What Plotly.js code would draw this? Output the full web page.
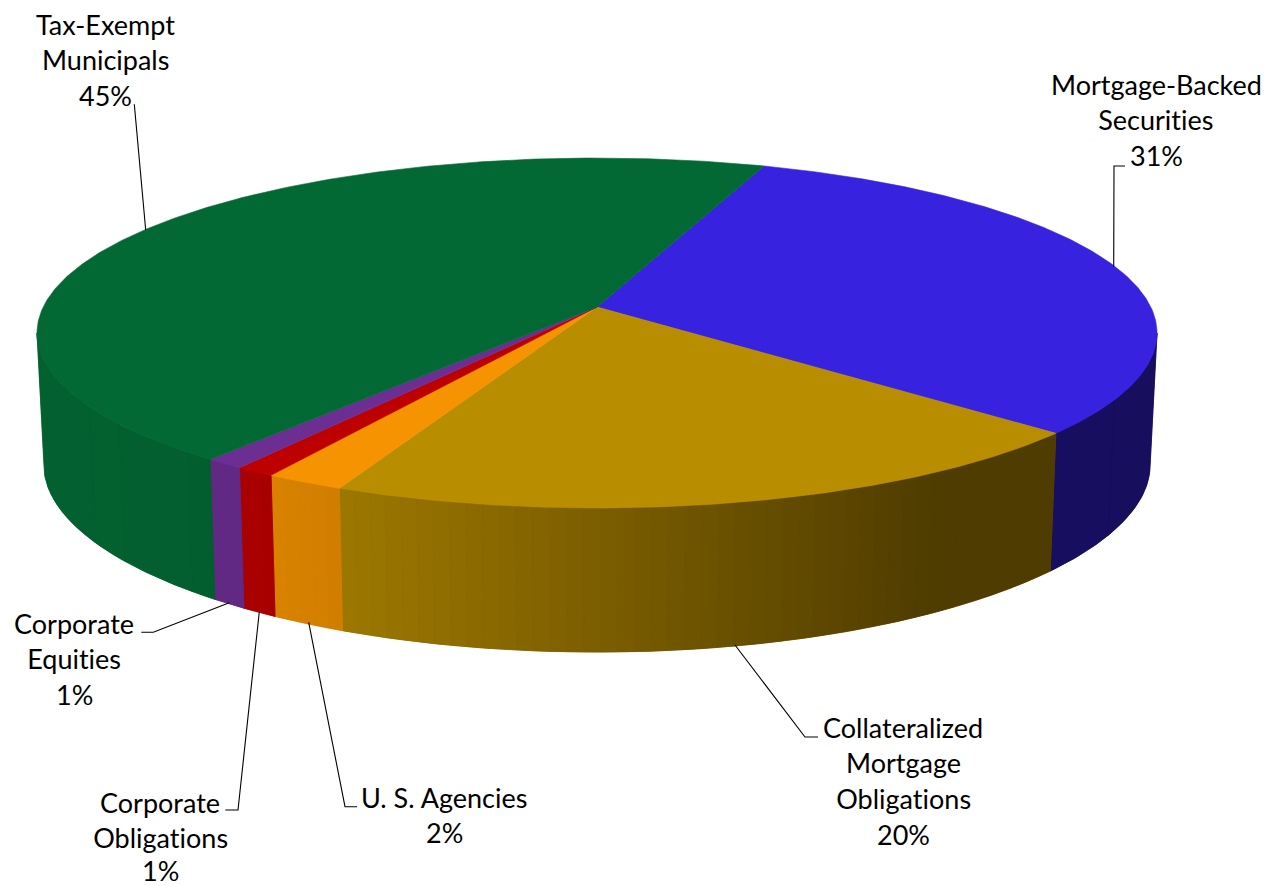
<!DOCTYPE html>
<html>
<head>
<meta charset="utf-8">
<title>Securities portfolio composition</title>
<script src="https://cdn.plot.ly/plotly-3.0.1.min.js"></script>
<style>
html,body{margin:0;padding:0;background:#fff}
#chart{width:1268px;height:886px}
#chart text{font-variant-ligatures:none;font-feature-settings:"liga" 0,"clig" 0}
</style>
</head>
<body>
<div id="chart"></div>
<script>
// Portfolio shares, in percent, clockwise from the first slice.
const categories = ['Mortgage-Backed Securities', 'Collateralized Mortgage Obligations', 'U. S. Agencies',
  'Corporate Obligations', 'Corporate Equities', 'Tax-Exempt Municipals'];
const shares = [31, 20, 2, 1, 1, 45];
const labelLines = [
  ['Mortgage-Backed', 'Securities'],
  ['Collateralized', 'Mortgage', 'Obligations'],
  ['U. S. Agencies'],
  ['Corporate', 'Obligations'],
  ['Corporate', 'Equities'],
  ['Tax-Exempt', 'Municipals']
];
const sliceColors = [[55, 34, 224], [185, 141, 0], [245, 147, 0], [189, 0, 0], [108, 46, 146], [3, 105, 52]];

// Layout of the tilted disc, in canvas pixels.
const firstSliceAngle = 20.1;
const perspective = 0.1486;
const centerX = 597;
const topFace = {a: 553.8, b: 171.1, cy: 307, ky: 0.1486};
const bottomFace = {a: 547, b: 178, cy: 437.6, ky: 0.17};
// Brightness of the rim, by horizontal position.
const rimShade = [[37, 0.92], [270, 0.89], [340, 0.85], [930, 0.43], [1160, 0.42]];

// Leader lines and label blocks: where each line runs, and the height of each text row.
const leaderPaths = [
  [[1113.7, 266.7], [1114, 166], [1125, 166]],
  [[735, 645], [805, 737], [818, 737]],
  [[308.7, 622.3], [345, 806.7], [357, 806.7]],
  [[259.3, 611.7], [238, 810], [225.3, 810]],
  [[229.3, 602.7], [153.3, 632.3], [141.3, 632.3]],
  [[145.7, 230], [134.3, 104.3]]
];
const labelCentreX = [1156, 903, 444, 160, 74, 105];
const labelRowY = [
  [84, 119.5, 155],
  [727, 762.5, 798, 834],
  [797, 832],
  [802, 837, 870],
  [623, 658, 694],
  [24, 59, 95]
];

function project(face, deg) {
  const t = deg * Math.PI / 180;
  const X = Math.sin(t), Y = Math.cos(t);
  return [centerX + face.a * X / (1 + perspective * Y), face.cy - face.b * Y / (1 + face.ky * Y)];
}
function rgb(c, f) {
  return 'rgb(' + c.map(v => Math.round(v * f)).join(',') + ')';
}
function shadeAt(x) {
  if (x <= rimShade[0][0]) return rimShade[0][1];
  for (let i = 1; i < rimShade.length; i++) {
    if (x <= rimShade[i][0]) {
      const [x0, f0] = rimShade[i - 1], [x1, f1] = rimShade[i];
      return f0 + (f1 - f0) * (x - x0) / (x1 - x0);
    }
  }
  return rimShade[rimShade.length - 1][1];
}
function polygon(points, color) {
  return {
    type: 'scatter', mode: 'lines', x: points.map(p => p[0]), y: points.map(p => p[1]),
    fill: 'toself', fillcolor: color, line: {color: color, width: 0.6},
    hoverinfo: 'skip', showlegend: false
  };
}
// A stretch of rim between two angles, as a closed outline.
function rimOutline(a0, a1) {
  const n = Math.max(2, Math.ceil((a1 - a0) * 2)), pts = [];
  for (let j = 0; j <= n; j++) pts.push(project(topFace, a0 + (a1 - a0) * j / n));
  for (let j = n; j >= 0; j--) pts.push(project(bottomFace, a0 + (a1 - a0) * j / n));
  pts.push(pts[0]);
  return pts;
}

const total = shares.reduce((s, v) => s + v, 0);
let angle = firstSliceAngle;
const spans = shares.map((v, i) => {
  const from = angle;
  angle += v / total * 360;
  return {from, to: angle, color: sliceColors[i]};
});

const traces = [];
// The rim is visible between the two points where the disc's outline turns back.
const nearFrom = Math.acos(-perspective) * 180 / Math.PI;
const nearTo = 360 - nearFrom;
const stripStep = 1.5;

// Rim bands; runs of one colour are drawn as a single band over a solid base.
spans.forEach(s => {
  const start = Math.max(s.from, nearFrom), end = Math.min(s.to, nearTo);
  if (start >= end) return;
  const midX = project(topFace, (start + end) / 2)[0];
  traces.push(polygon(rimOutline(start, end), rgb(s.color, shadeAt(midX))));
  const n = Math.max(1, Math.ceil((end - start) / stripStep));
  let runStart = start, runColor = null;
  for (let i = 0; i < n; i++) {
    const a0 = start + (end - start) * i / n, a1 = start + (end - start) * (i + 1) / n;
    const color = rgb(s.color, shadeAt(project(topFace, (a0 + a1) / 2)[0]));
    if (runColor === null) runColor = color;
    if (color !== runColor) {
      traces.push(polygon(rimOutline(runStart, a0), runColor));
      runStart = a0;
      runColor = color;
    }
    if (i === n - 1) traces.push(polygon(rimOutline(runStart, a1), runColor));
  }
});

// Top face of each slice, over the rim.
spans.forEach(s => {
  const pts = [[centerX, topFace.cy]];
  const n = Math.ceil((s.to - s.from) * 2);
  for (let j = 0; j <= n; j++) pts.push(project(topFace, s.from + (s.to - s.from) * j / n));
  pts.push(pts[0]);
  traces.push(polygon(pts, rgb(s.color, 1)));
});

// Leader lines from the disc out to the labels.
leaderPaths.forEach(pts => {
  traces.push({
    type: 'scatter', mode: 'lines', x: pts.map(q => q[0]), y: pts.map(q => q[1]),
    line: {color: '#000', width: 1.1}, hoverinfo: 'skip', showlegend: false
  });
});

// One annotation per text row, so the row spacing can be set directly.
const annotations = [];
categories.forEach((c, i) => {
  labelLines[i].concat([shares[i] + '%']).forEach((row, r) => {
    annotations.push({
      xref: 'x', yref: 'y', x: labelCentreX[i], y: labelRowY[i][r],
      xanchor: 'center', yanchor: 'middle', align: 'center', showarrow: false,
      text: row,
      font: {family: 'Lato, "Open Sans", sans-serif', size: 27, color: '#000'}
    });
  });
});

Plotly.newPlot('chart', traces, {
  width: 1268, height: 886,
  margin: {l: 0, r: 0, t: 0, b: 0},
  paper_bgcolor: '#fff', plot_bgcolor: '#fff',
  showlegend: false, hovermode: false,
  xaxis: {range: [0, 1268], visible: false, fixedrange: true},
  yaxis: {range: [886, 0], visible: false, fixedrange: true},
  annotations: annotations
}, {displayModeBar: false, staticPlot: true});
</script>
</body>
</html>
